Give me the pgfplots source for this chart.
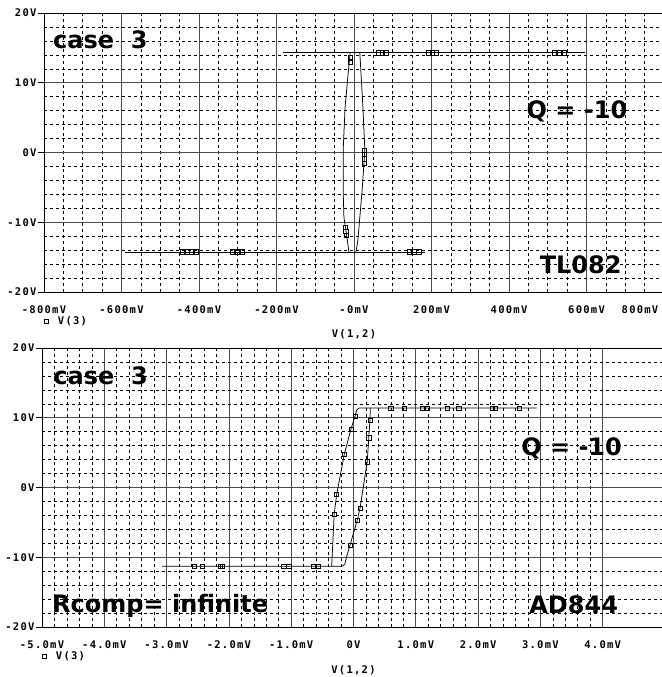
\documentclass[border=0pt]{standalone}
\usepackage{fontspec}
\setmainfont{DejaVu Sans}
\newfontfamily\tickfont[LetterSpace=12,BoldFont={DejaVu Sans Mono Bold}]{DejaVu Sans Mono}
\newfontfamily\notefont{DejaVu Sans}
\usepackage{pgfplots}
\pgfplotsset{compat=1.18}
\newcommand{\tf}{\tickfont\bfseries\fontsize{10.5}{12}\selectfont}
\newcommand{\nf}{\notefont\bfseries\fontsize{24}{28}\selectfont}
\pgfplotsset{
  pspice/.style={
    scale only axis,
    anchor=north west,
    ymin=-20, ymax=20,
    ytick={-20,-10,0,10,20},
    yticklabels={-20V,-10V,0V,10V,20V},
    minor y tick num=4,
    grid=both,
    major grid style={black!70, line width=0.8pt},
    minor grid style={black, line width=0.6pt, dash pattern=on 3pt off 3pt},
    axis line style={black, line width=0.8pt},
    xtick style={draw=none},
    ytick style={black, line width=0.8pt},
    minor tick style={draw=none},
    major tick length=6pt,
    tick align=outside,
    xtick pos=bottom, ytick pos=left,
    ticklabel style={font=\tf, text=black},
    yticklabel style={xshift=2pt},
    xticklabel style={yshift=-4pt},
    legend style={at={(rel axis cs:0,0)}, anchor=north west, xshift=0pt, yshift=-22pt,
      draw=none, fill=none, font=\tf, inner sep=0pt},
    legend cell align=left,
    clip=false,
  },
  crv/.style={black, line width=0.75pt, forget plot},
  mk/.style={only marks, mark=square, mark size=2.1pt, mark options={fill=white, draw=black, line width=0.6pt}},
}
\begin{document}
\begin{tikzpicture}
\useasboundingbox (0pt,0pt) rectangle (661pt,-677pt);
% ---------------- top: TL082 ----------------
\begin{axis}[pspice,
  at={(44pt,-13pt)}, width=620pt, height=279pt,
  xmin=-800, xmax=800,
  xtick={-800,-600,-400,-200,0,200,400,600,800},
  xticklabels={-800mV,-600mV,-400mV,-200mV,-0mV,200mV,400mV,600mV,\kern-24pt 800mV\kern24pt},
  minor x tick num=3,
]
\addplot[crv] coordinates {(-592,-14.25) (183,-14.25)};
\addplot[crv] coordinates {(-183,14.3) (595,14.3)};
\addplot[crv] coordinates {(-10,14.3) (-15,11.4) (-23,6.5) (-28,0.3) (-28,-5.4) (-26,-9.3) (-21,-11.1) (-13,-14.25)};
\addplot[crv] coordinates {(15,14.3) (18,11.4) (23,6.5) (28,0.3) (21,-5.4) (15,-9.3) (10,-12.6) (5,-14.25)};
\addplot[mk] coordinates {
 (62,14.3) (72,14.3) (82,14.3)
 (193,14.3) (203,14.3) (212,14.3)
 (517,14.3) (530,14.3) (543,14.3)
 (-10,13.6) (-10,12.9)
 (26,0.3) (26,-0.3) (26,-0.9) (26,-1.5)
 (-22,-10.7) (-21,-11.3) (-20,-11.9)
 (-443,-14.25) (-431,-14.25) (-420,-14.25) (-408,-14.25)
 (-314,-14.25) (-301,-14.25) (-288,-14.25)
 (143,-14.25) (155,-14.25) (167,-14.25)
};
\addlegendentry{\ V(3)}
\node[anchor=base west, inner sep=0pt, font=\nf] at (axis cs:-777,14.98) {case\ \ 3};
\node[anchor=base west, inner sep=0pt, font=\nf] at (axis cs:445,4.9) {Q = -10};
\node[anchor=base west, inner sep=0pt, font=\nf] at (axis cs:479,-17.3) {TL082};
\node[font=\tf, anchor=center] at (axis cs:0,-26.1) {V(1,2)};
\end{axis}
% ---------------- bottom: AD844 ----------------
\begin{axis}[pspice,
  at={(42pt,-348pt)}, width=623pt, height=279pt,
  xmin=-5, xmax=5,
  xtick={-5,-4,-3,-2,-1,0,1,2,3,4},
  xticklabels={-5.0mV,-4.0mV,-3.0mV,-2.0mV,-1.0mV,0V,1.0mV,2.0mV,3.0mV,4.0mV},
  minor x tick num=4,
]
\addplot[crv] coordinates {(-3.07,-11.3) (-0.18,-11.3) (-0.14,-11.0) (-0.1,-9.6) (-0.056,-8.27) (0.06,-4.68) (0.104,-3.0) (0.22,3.69) (0.245,7.13) (0.264,9.68) (0.27,11.4)};
\addplot[crv] coordinates {(-0.35,-11.3) (-0.31,-3.8) (-0.27,-1.0) (-0.147,4.8) (-0.04,8.4) (0.024,10.2) (0.05,11.1) (0.09,11.4) (2.94,11.4)};
\addplot[mk] coordinates {
 (0.6,11.4) (0.81,11.4) (1.1,11.4) (1.18,11.4) (1.51,11.4) (1.69,11.4) (2.23,11.4) (2.28,11.4) (2.66,11.4)
 (0.264,9.68) (0.245,7.13) (0.22,3.69) (0.104,-3.0) (0.06,-4.68) (-0.056,-8.27)
 (0.024,10.2) (-0.04,8.4) (-0.147,4.8) (-0.27,-1.0) (-0.31,-3.8)
 (-2.56,-11.3) (-2.43,-11.3) (-2.14,-11.3) (-2.1,-11.3) (-1.12,-11.3) (-1.04,-11.3) (-0.64,-11.3) (-0.56,-11.3)
};
\addlegendentry{\ V(3)}
\node[anchor=base west, inner sep=0pt, font=\nf] at (axis cs:-4.82,14.83) {case\ \ 3};
\node[anchor=base west, inner sep=0pt, font=\nf] at (axis cs:2.69,4.65) {Q = -10};
\node[anchor=base west, inner sep=0pt, font=\nf] at (axis cs:-4.84,-17.9) {Rcomp= infinite};
\node[anchor=base west, inner sep=0pt, font=\nf] at (axis cs:2.82,-18.0) {AD844};
\node[font=\tf, anchor=center] at (axis cs:0,-26.2) {V(1,2)};
\end{axis}
\end{tikzpicture}
\end{document}
